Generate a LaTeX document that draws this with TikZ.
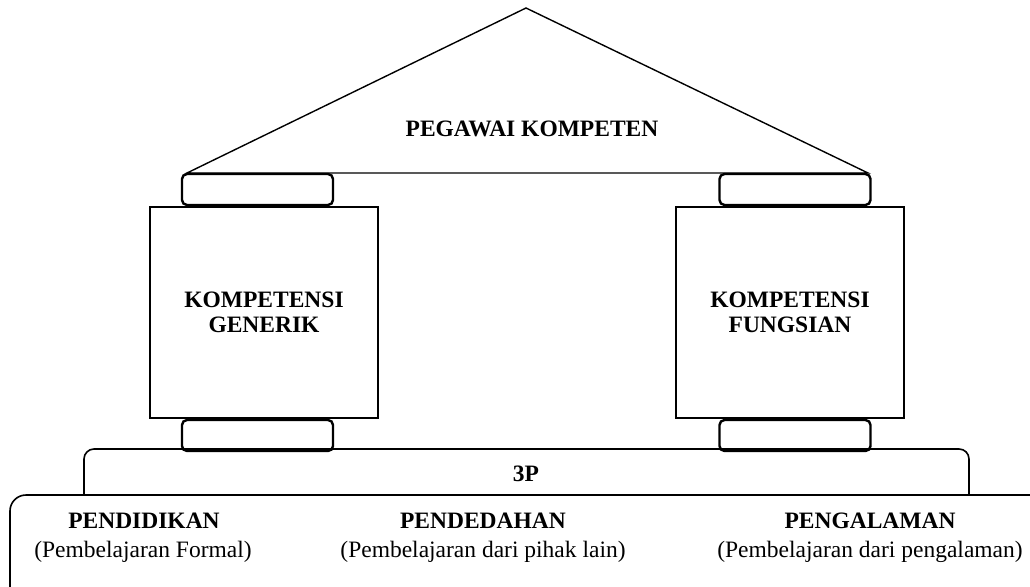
\documentclass[tikz,border=0pt]{standalone}
\usepackage{fontspec}
\setmainfont{Liberation Serif}
\usepackage{tikz}
\usetikzlibrary{positioning}
\tikzset{
    pillar/.style={
        draw,
        line width=1.6pt,
        minimum width=228pt,
        minimum height=211pt
    },
    capbox/.style={
        draw,
        line width=2.4pt,
        rounded corners=5pt,
        minimum width=151pt,
        minimum height=31pt
    },
    headtxt/.style={
        font=\fontsize{23.5}{24.5}\selectfont\bfseries,
        align=center,
        inner sep=0pt
    },
    basetxt/.style={
        font=\fontsize{23.5}{24.5}\selectfont,
        inner sep=0pt,
        anchor=base
    }
}

\begin{document}
\begin{tikzpicture}[x=1pt,y=-1pt]
    \useasboundingbox (0,0) rectangle (1030,586);

    % draw roof
    \draw[line width=1.4pt] (187,173) coordinate (roofL) -- (526,8) coordinate (apex) -- (868,173) coordinate (roofR) -- cycle;
    \node[headtxt, anchor=base] (pegawai) at (532,136) {PEGAWAI KOMPETEN};

    % draw pillars
    \node[pillar] (generik) at (264,312.5) {};
    \node[pillar] (fungsian) at (790,312.5) {};
    \node[headtxt] (generiktxt) at (generik) {KOMPETENSI\\GENERIK};
    \node[headtxt] (fungsiantxt) at (fungsian) {KOMPETENSI\\FUNGSIAN};

    % draw capitals and bases
    \node[capbox, above=0pt of generik, xshift=-6.5pt] (capL) {};
    \node[capbox, above=0pt of fungsian, xshift=5pt] (capR) {};
    \node[capbox, below=0pt of generik, xshift=-6.5pt] (baseL) {};
    \node[capbox, below=0pt of fungsian, xshift=5pt] (baseR) {};

    % draw 3P step
    \draw[line width=1.6pt, rounded corners=10pt] (84,495) -- (84,449) -- (969,449) -- (969,495);
    \node[headtxt, anchor=base] (tigap) at (526,481) {3P};

    % draw foundation
    \draw[line width=1.6pt, rounded corners=16pt] (10,600) -- (10,495) -- (1040,495);
    \node[basetxt] (pendidikan) at (144,528) {\bfseries PENDIDIKAN};
    \node[basetxt] (pendidikanket) at (143,557) {(Pembelajaran Formal)};
    \node[basetxt] (pendedahan) at (483,528) {\bfseries PENDEDAHAN};
    \node[basetxt] (pendedahanket) at (483,557) {(Pembelajaran dari pihak lain)};
    \node[basetxt] (pengalaman) at (870,528) {\bfseries PENGALAMAN};
    \node[basetxt] (pengalamanket) at (870,557) {(Pembelajaran dari pengalaman)};
\end{tikzpicture}
\end{document}
